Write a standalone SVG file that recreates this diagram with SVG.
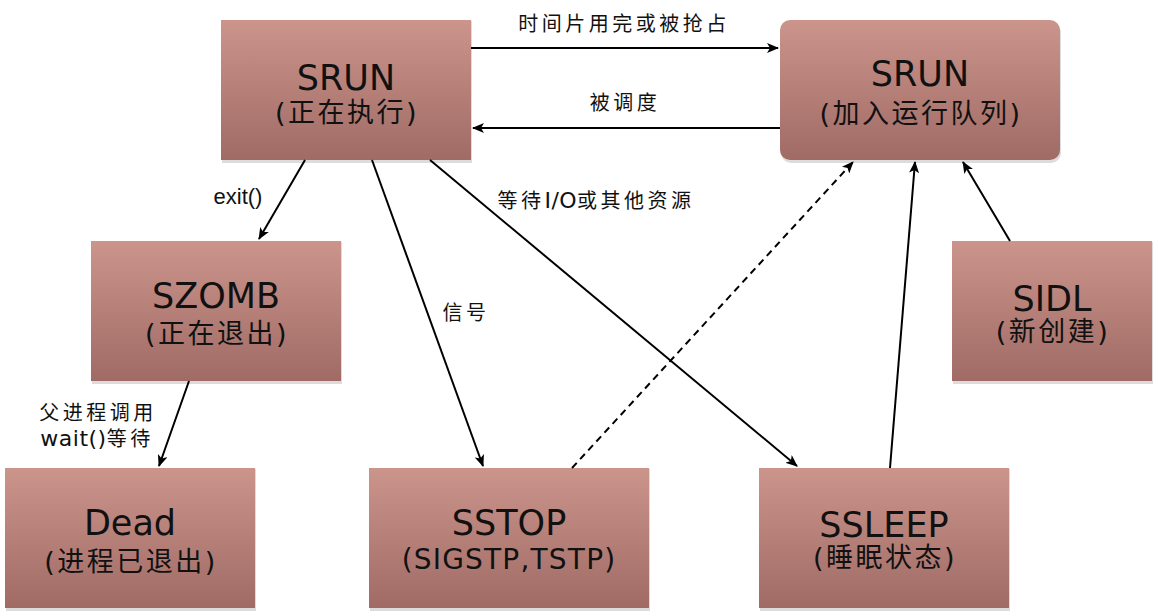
<svg xmlns="http://www.w3.org/2000/svg" width="1158" height="616" viewBox="0 0 1158 616">
<style>
.box{fill:url(#g)}
.sh{fill:#dcdcdc}
.t{font-family:"DejaVu Sans","Noto Sans CJK SC",sans-serif;font-size:35px;fill:#111;text-anchor:middle}
.s{font-family:"DejaVu Sans","Noto Sans CJK SC",sans-serif;font-size:27px;letter-spacing:2.5px;fill:#111;text-anchor:middle}
.s2{font-family:"DejaVu Sans",sans-serif;font-size:28px;letter-spacing:1.2px;fill:#111;text-anchor:middle}
.l{font-family:"DejaVu Sans","Noto Sans CJK SC",sans-serif;font-size:20px;letter-spacing:3.5px;fill:#111;text-anchor:middle}
.la{letter-spacing:0.5px;font-size:22px}
.e{font-family:"Liberation Sans",sans-serif;font-size:22px;fill:#111;text-anchor:middle}
.c{stroke:#000;stroke-width:2;fill:none;marker-end:url(#a)}
</style>
<defs>
<linearGradient id="g" x1="0" y1="0" x2="0" y2="1">
<stop offset="0" stop-color="#cb958c"/>
<stop offset="1" stop-color="#a06b65"/>
</linearGradient>
<marker id="a" viewBox="0 0 12 10" refX="11" refY="5" markerWidth="12" markerHeight="10" markerUnits="userSpaceOnUse" orient="auto">
<path d="M0,0 L12,5 L0,10 L3,5 Z" fill="#000"/>
</marker>
</defs>
<g id="srun-exec">
<rect class="sh" x="222" y="21" width="250" height="142"/>
<rect class="box" x="221" y="20" width="250" height="140"/>
<text class="t" x="346" y="90">SRUN</text>
<text class="s" x="347" y="122">(正在执行)</text>
</g>
<g id="srun-queue">
<rect class="sh" x="781" y="22" width="280" height="141" rx="10"/>
<rect class="box" x="780" y="20" width="280" height="140" rx="10"/>
<text class="t" x="920" y="86">SRUN</text>
<text class="s" x="921" y="123">(加入运行队列)</text>
</g>
<g id="szomb">
<rect class="sh" x="92" y="242" width="250" height="142"/>
<rect class="box" x="91" y="241" width="250" height="140"/>
<text class="t" x="216" y="308">SZOMB</text>
<text class="s" x="217" y="343">(正在退出)</text>
</g>
<g id="sidl">
<rect class="sh" x="953" y="242" width="200" height="142"/>
<rect class="box" x="952" y="241" width="200" height="140"/>
<text class="t" x="1052" y="311">SIDL</text>
<text class="s" x="1053" y="341">(新创建)</text>
</g>
<g id="dead">
<rect class="sh" x="6" y="469" width="250" height="142"/>
<rect class="box" x="5" y="468" width="250" height="140"/>
<text class="t" x="130" y="535">Dead</text>
<text class="s" x="131" y="571">(进程已退出)</text>
</g>
<g id="sstop">
<rect class="sh" x="370" y="469" width="280" height="142"/>
<rect class="box" x="369" y="468" width="280" height="140"/>
<text class="t" x="509" y="535">SSTOP</text>
<text class="s2" x="509" y="569">(SIGSTP,TSTP)</text>
</g>
<g id="ssleep">
<rect class="sh" x="760" y="469" width="250" height="142"/>
<rect class="box" x="759" y="468" width="250" height="140"/>
<text class="t" x="884" y="537">SSLEEP</text>
<text class="s" x="885" y="567">(睡眠状态)</text>
</g>
<g id="connectors">
<line class="c" x1="471" y1="48" x2="778" y2="48"/>
<line class="c" x1="780" y1="128" x2="473" y2="128"/>
<line class="c" x1="305" y1="160" x2="259" y2="239"/>
<line class="c" x1="372" y1="160" x2="483" y2="466"/>
<line class="c" x1="430" y1="160" x2="797" y2="466"/>
<line class="c" x1="572" y1="468" x2="853" y2="162" stroke-dasharray="7,5"/>
<line class="c" x1="890" y1="468" x2="915" y2="162"/>
<line class="c" x1="1010" y1="241" x2="963" y2="162"/>
<line class="c" x1="189" y1="381" x2="159" y2="466"/>
<text class="l" x="624" y="31">时间片用完或被抢占</text>
<text class="l" x="625" y="110">被调度</text>
<text class="e" x="238" y="204">exit()</text>
<text class="l" x="596" y="208">等待<tspan class="la">I/O</tspan>或其他资源</text>
<text class="l" x="466" y="320">信号</text>
<text class="l" x="98" y="420">父进程调用</text>
<text class="l" x="97" y="446"><tspan class="la">wait()</tspan>等待</text>
</g>
</svg>
